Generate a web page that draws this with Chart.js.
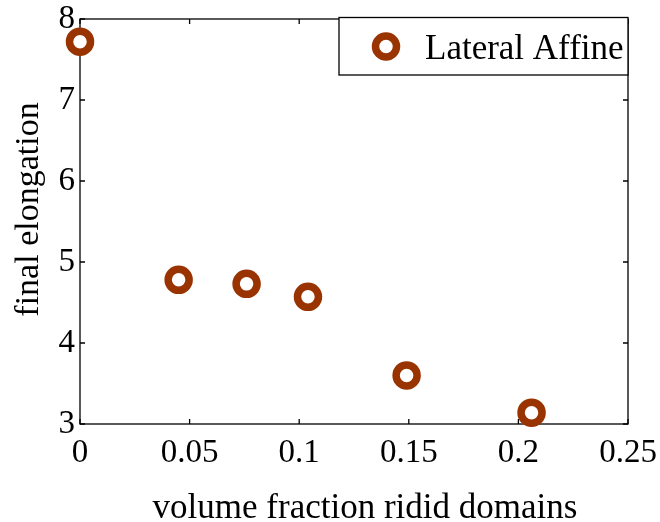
<!DOCTYPE html>
<html lang="en">
<head>
    <meta charset="utf-8">
    <title>Final elongation</title>
    <script src="https://cdn.jsdelivr.net/npm/chart.js@4/dist/chart.umd.min.js"></script>
    <style>
        body { margin: 0; background: #fff; }
        #wrap { width: 660px; height: 522px; }
    </style>
</head>
<body>

<div id="wrap">
    <canvas id="graph" width="660" height="522"></canvas>
</div>

<script>
    // Data
    var fractions = [0, 0.045, 0.076, 0.104, 0.149, 0.206];
    var elongation = [7.72, 4.78, 4.73, 4.57, 3.60, 3.14];
    var xTicks = [0, 0.05, 0.1, 0.15, 0.2, 0.25];
    var xTickLabels = ["0", "0.05", "0.1", "0.15", "0.2", "0.25"];
    var yTicks = [3, 4, 5, 6, 7, 8];
    var yTickLabels = ["3", "4", "5", "6", "7", "8"];
    var seriesName = "Lateral Affine";
    var xTitle = "volume fraction ridid domains";
    var yTitle = "final elongation";

    var FONT = "'Liberation Serif', 'Times New Roman', serif";
    var RUST = "#993300";
    var TICK_LEN = 5;

    var points = fractions.map(function(x, i) { return { x: x, y: elongation[i] }; });

    // box around the axes with ticks pointing inwards on all four sides
    var framePlugin = {
        id: "frame",
        beforeDatasetsDraw: function(chart) {
            var ctx = chart.ctx, a = chart.chartArea;
            var xs = chart.scales.x, ys = chart.scales.y;
            ctx.save();
            ctx.strokeStyle = "#000";
            ctx.lineWidth = 1.3;
            ctx.strokeRect(a.left, a.top, a.right - a.left, a.bottom - a.top);
            ctx.beginPath();
            xTicks.forEach(function(v) {
                var px = xs.getPixelForValue(v);
                ctx.moveTo(px, a.bottom); ctx.lineTo(px, a.bottom - TICK_LEN);
                ctx.moveTo(px, a.top); ctx.lineTo(px, a.top + TICK_LEN);
            });
            yTicks.forEach(function(v) {
                var py = ys.getPixelForValue(v);
                ctx.moveTo(a.left, py); ctx.lineTo(a.left + TICK_LEN, py);
                ctx.moveTo(a.right, py); ctx.lineTo(a.right - TICK_LEN, py);
            });
            ctx.stroke();

            // axis titles
            var midX = (a.left + a.right) / 2, midY = (a.top + a.bottom) / 2;
            ctx.fillStyle = "#000";
            ctx.textAlign = "center";
            ctx.textBaseline = "alphabetic";
            ctx.font = "35px " + FONT;
            ctx.fillText(xTitle, midX + 11, 518);
            ctx.font = "34px " + FONT;
            ctx.translate(38, midY - 12);
            ctx.rotate(-Math.PI / 2);
            ctx.fillText(yTitle, 0, 0);
            ctx.restore();
        }
    };

    // legend box in the top right corner of the axes
    var legendPlugin = {
        id: "boxLegend",
        afterDraw: function(chart) {
            var ctx = chart.ctx, a = chart.chartArea;
            var ds = chart.data.datasets[0];
            var right = a.right, top = a.top - 1.5, left = 339, bottom = 75;
            ctx.save();
            ctx.fillStyle = "#fff";
            ctx.fillRect(left, top, right - left, bottom - top);
            ctx.strokeStyle = "#000";
            ctx.lineWidth = 1.3;
            ctx.strokeRect(left, top, right - left, bottom - top);

            ctx.beginPath();
            ctx.arc(386, 46.5, ds.pointRadius, 0, Math.PI * 2);
            ctx.fillStyle = "#fff";
            ctx.fill();
            ctx.lineWidth = ds.pointBorderWidth;
            ctx.strokeStyle = ds.pointBorderColor;
            ctx.stroke();

            ctx.fillStyle = "#000";
            ctx.font = "35px " + FONT;
            ctx.textBaseline = "alphabetic";
            ctx.textAlign = "left";
            ctx.fillText(ds.label, 425, 59);
            ctx.restore();
        }
    };

    new Chart(document.getElementById("graph").getContext("2d"), {
        type: "scatter",
        data: {
            datasets: [{
                label: seriesName,
                data: points,
                showLine: false,
                pointRadius: 10.5,
                pointHoverRadius: 10.5,
                pointBorderWidth: 7.5,
                pointHoverBorderWidth: 7.5,
                pointBorderColor: RUST,
                borderColor: RUST,
                pointBackgroundColor: "#fff",
                backgroundColor: "#fff",
                clip: false
            }]
        },
        options: {
            responsive: false,
            animation: false,
            layout: { padding: { top: 19, right: 32, left: 0, bottom: 0 } },
            plugins: {
                legend: { display: false },
                tooltip: { enabled: false }
            },
            scales: {
                x: {
                    type: "linear",
                    min: 0,
                    max: 0.25,
                    afterBuildTicks: function(s) { s.ticks = xTicks.map(function(v) { return { value: v }; }); },
                    afterFit: function(s) {
                        s.height = 98;
                        s.paddingLeft = 0;
                        s.paddingRight = 0;
                    },
                    grid: { display: false, drawTicks: false },
                    border: { display: false },
                    ticks: {
                        padding: 10,
                        color: "#000",
                        font: { family: FONT, size: 33 },
                        maxRotation: 0,
                        autoSkip: false,
                        callback: function(v, i) { return xTickLabels[i]; }
                    }
                },
                y: {
                    min: 3,
                    max: 8,
                    afterBuildTicks: function(s) { s.ticks = yTicks.map(function(v) { return { value: v }; }); },
                    afterFit: function(s) {
                        s.width = 80;
                        s.paddingTop = 0;
                        s.paddingBottom = 0;
                    },
                    grid: { display: false, drawTicks: false },
                    border: { display: false },
                    ticks: {
                        padding: 5,
                        color: "#000",
                        font: { family: FONT, size: 33 },
                        autoSkip: false,
                        callback: function(v, i) { return yTickLabels[i]; }
                    }
                }
            }
        },
        plugins: [framePlugin, legendPlugin]
    });
</script>

</body>
</html>
